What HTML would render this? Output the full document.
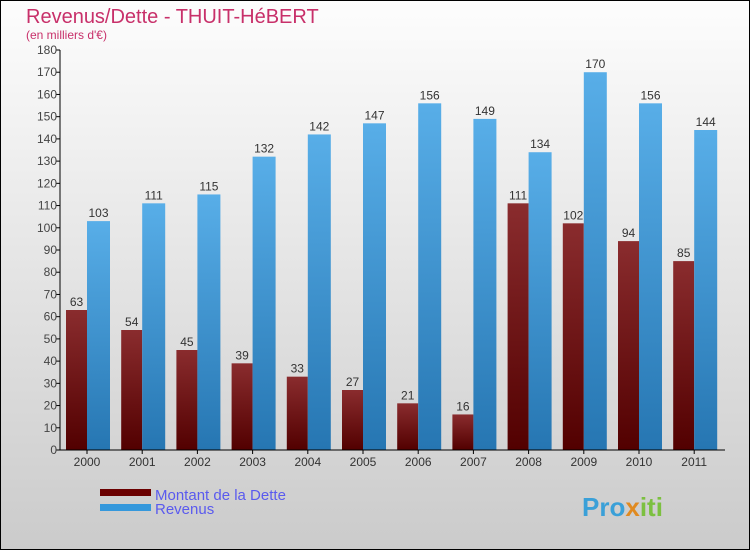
<!DOCTYPE html>
<html><head><meta charset="utf-8"><style>
body{margin:0;width:750px;height:550px;overflow:hidden;font-family:"Liberation Sans",sans-serif}
</style></head><body>
<svg id="c" width="750" height="550" xmlns="http://www.w3.org/2000/svg">
<defs>
<linearGradient id="bg" x1="0" y1="0" x2="0" y2="1"><stop offset="0" stop-color="#fdfdfd"/><stop offset="1" stop-color="#cbcbcb"/></linearGradient>
<linearGradient id="gd" x1="0" y1="0" x2="0" y2="1"><stop offset="0" stop-color="#8a2c2e"/><stop offset="1" stop-color="#520000"/></linearGradient>
<linearGradient id="gr" x1="0" y1="0" x2="0" y2="1"><stop offset="0" stop-color="#58aee8"/><stop offset="1" stop-color="#2676b2"/></linearGradient>
</defs>
<rect x="0.5" y="0.5" width="749" height="549" fill="url(#bg)" stroke="#000"/>
<text x="26" y="23" font-size="20" fill="#c8306a">Revenus/Dette - THUIT-HéBERT</text>
<text x="26" y="39" font-size="12" fill="#c8306a">(en milliers d'€)</text>
<g id="plot"></g>
<rect x="100" y="489" width="51" height="7" fill="#6b0000"/>
<rect x="100" y="504" width="51" height="7" fill="#3598dc"/>
<text x="155" y="500" font-size="15" fill="#5a5aee">Montant de la Dette</text>
<text x="155" y="514" font-size="15" fill="#5a5aee">Revenus</text>
<text x="582" y="516" font-size="26" font-weight="bold" fill="#3aa0d8">Pro<tspan fill="#e08a20">x</tspan><tspan fill="#7cc040">iti</tspan></text>
</svg>
<script>
const years=["2000","2001","2002","2003","2004","2005","2006","2007","2008","2009","2010","2011"];
const dette=[63,54,45,39,33,27,21,16,111,102,94,85];
const revenus=[103,111,115,132,142,147,156,149,134,170,156,144];
const yTicks=[0,10,20,30,40,50,60,70,80,90,100,110,120,130,140,150,160,170,180];
const NS="http://www.w3.org/2000/svg";
const g=document.getElementById('plot');
const x0=60,yBase=450,yTop=50,yMax=180,step=55.2;
const y=v=>yBase-(v/yMax)*(yBase-yTop);
function mk(t,a){const e=document.createElementNS(NS,t);for(const k in a)e.setAttribute(k,a[k]);g.appendChild(e);return e;}
yTicks.forEach(v=>{
  const l=mk('line',{x1:x0-4,x2:x0,y1:y(v),y2:y(v),stroke:'#000'});
  
  
  const t=mk('text',{x:x0-3,y:y(v)+4,'font-size':12,fill:'#444','text-anchor':'end'});
  t.textContent=v;
  
  
});
years.forEach((yr,i)=>{
  const gx=x0+i*step;
  const d=mk('rect',{x:gx+6,y:y(dette[i]),width:21,height:yBase-y(dette[i]),fill:'url(#gd)'});
  
  
  const r=mk('rect',{x:gx+27,y:y(revenus[i]),width:23,height:yBase-y(revenus[i]),fill:'url(#gr)'});
  
  
  const dl=mk('text',{x:gx+16.5,y:y(dette[i])-4,'font-size':12,fill:'#333','text-anchor':'middle'});
  dl.textContent=dette[i];
  
  
  const rl=mk('text',{x:gx+38.5,y:y(revenus[i])-4,'font-size':12,fill:'#333','text-anchor':'middle'});
  rl.textContent=revenus[i];
  
  
  const xl=mk('text',{x:gx+27,y:466,'font-size':12,fill:'#333','text-anchor':'middle'});
  xl.textContent=yr;
  
  
  const tk=mk('line',{x1:gx+27,x2:gx+27,y1:yBase,y2:yBase+4,stroke:'#000'});
  
  
});
const ya=mk('line',{x1:x0,x2:x0,y1:yTop,y2:yBase,stroke:'#000'});


const xa=mk('line',{x1:x0,x2:725,y1:yBase,y2:yBase,stroke:'#000'});


</script>
</body></html>
